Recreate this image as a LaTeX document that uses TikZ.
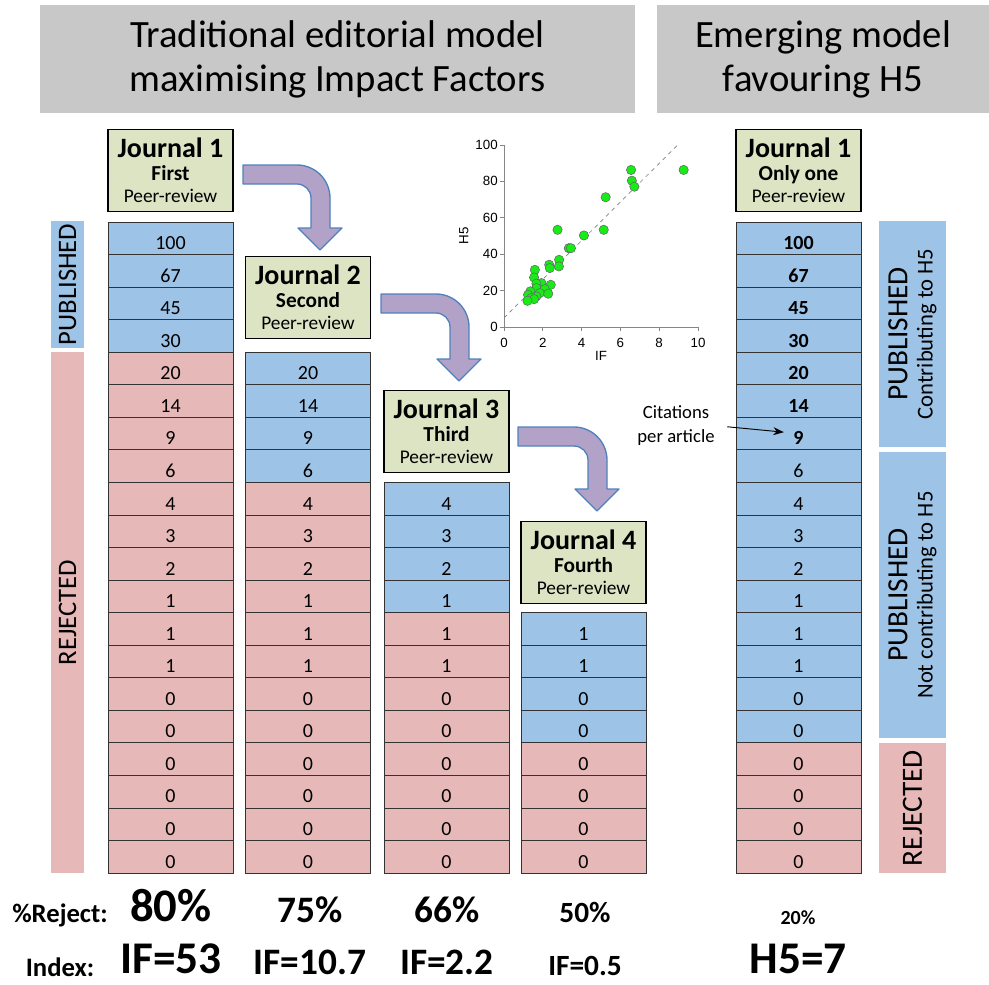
\documentclass[tikz,border=0pt]{standalone}
\usepackage{fontspec}
\setmainfont{Carlito}
\newfontfamily\chartfont{Liberation Sans}
\usetikzlibrary{arrows.meta}
\definecolor{pubblue}{RGB}{157,195,230}
\definecolor{rejpink}{RGB}{230,185,184}
\definecolor{jgreen}{RGB}{220,228,196}
\definecolor{titlegray}{RGB}{200,200,200}
\definecolor{arrowlilac}{RGB}{179,162,199}
\definecolor{arrowedge}{RGB}{79,129,189}
\definecolor{dotgreen}{RGB}{25,235,25}
\definecolor{axisgray}{RGB}{134,134,134}
\begin{document}
\begin{tikzpicture}[x=0.75pt,y=-0.75pt,
  cell/.style={draw=black!80, line width=0.6pt, minimum width=93.75pt, minimum height=24.41pt,
    inner sep=0pt, text height=17pt, text depth=0pt, font=\fontsize{15}{18}\selectfont},
  pub/.style={cell, fill=pubblue},
  pubbold/.style={pub, font=\fontsize{15}{18}\selectfont\bfseries},
  rej/.style={cell, fill=rejpink},
  journal/.style={draw, line width=0.9pt, fill=jgreen, minimum width=93.75pt, minimum height=62pt,
    inner sep=0pt, align=center, font=\fontsize{14.5}{17}\selectfont},
  strip/.style={rotate=90, inner sep=0pt, align=center},
  banner/.style={fill=titlegray, inner sep=0pt, align=center, font=\fontsize{29}{33}\selectfont},
  bent/.style={fill=arrowlilac, draw=arrowedge, line width=1pt, line join=round},
  tick/.style={font=\chartfont\fontsize{10}{12}\selectfont, inner sep=2.5pt},
  summary/.style={anchor=base, inner sep=0pt}]
\useasboundingbox (0,0) rectangle (989,985);

% headings
\node(tradtitle) at (337.5,59) [banner, minimum width=446.25pt, minimum height=81pt]
  {Traditional editorial model\\maximising Impact Factors};
\node(newtitle) at (823,59) [banner, minimum width=249pt, minimum height=81pt]
  {Emerging model\\favouring H5};

% journals
\node(j1) at (170.5,170.5) [journal]{{\fontsize{21}{17}\selectfont\bfseries Journal 1}\\{\fontsize{16}{17}\selectfont\bfseries First}\\Peer-review};
\node(j2) at (308,297.5) [journal]{{\fontsize{21}{17}\selectfont\bfseries Journal 2}\\{\fontsize{16}{17}\selectfont\bfseries Second}\\Peer-review};
\node(j3) at (446.5,431.5) [journal]{{\fontsize{21}{17}\selectfont\bfseries Journal 3}\\{\fontsize{16}{17}\selectfont\bfseries Third}\\Peer-review};
\node(j4) at (583.5,562.5) [journal]{{\fontsize{21}{17}\selectfont\bfseries Journal 4}\\{\fontsize{16}{17}\selectfont\bfseries Fourth}\\Peer-review};
\node(jh) at (798.5,170.5) [journal]{{\fontsize{21}{17}\selectfont\bfseries Journal 1}\\{\fontsize{16}{17}\selectfont\bfseries Only one}\\Peer-review};

% articles, citations per article
\foreach \v [count=\i] in {100,67,45,30}
  \node(a\i) at (170.5,205.725+32.55*\i) [pub]{\v};
\foreach \v [count=\i from 5] in {20,14,9,6,4,3,2,1,1,1,0,0,0,0,0,0}
  \node(a\i) at (170.5,205.725+32.55*\i) [rej]{\v};
\foreach \v [count=\i from 5] in {20,14,9,6}
  \node(b\i) at (308,205.725+32.55*\i) [pub]{\v};
\foreach \v [count=\i from 9] in {4,3,2,1,1,1,0,0,0,0,0,0}
  \node(b\i) at (308,205.725+32.55*\i) [rej]{\v};
\foreach \v [count=\i from 9] in {4,3,2,1}
  \node(c\i) at (446.5,205.725+32.55*\i) [pub]{\v};
\foreach \v [count=\i from 13] in {1,1,0,0,0,0,0,0}
  \node(c\i) at (446.5,205.725+32.55*\i) [rej]{\v};
\foreach \v [count=\i from 13] in {1,1,0,0}
  \node(d\i) at (583.5,205.725+32.55*\i) [pub]{\v};
\foreach \v [count=\i from 17] in {0,0,0,0}
  \node(d\i) at (583.5,205.725+32.55*\i) [rej]{\v};
\foreach \v [count=\i] in {100,67,45,30,20,14,9}
  \node(h\i) at (798.5,205.725+32.55*\i) [pubbold]{\v};
\foreach \v [count=\i from 8] in {6,4,3,2,1,1,1,0,0}
  \node(h\i) at (798.5,205.725+32.55*\i) [pub]{\v};
\foreach \v [count=\i from 17] in {0,0,0,0}
  \node(h\i) at (798.5,205.725+32.55*\i) [rej]{\v};

% side labels
\node(lpub) at (67.5,284.5) [strip, fill=pubblue, minimum width=95.25pt, minimum height=24.75pt,
  font=\fontsize{20}{22}\selectfont]{PUBLISHED};
\node(lrej) at (67.5,612.5) [strip, fill=rejpink, minimum width=390.75pt, minimum height=24.75pt,
  font=\fontsize{20}{22}\selectfont]{REJECTED};
\node(rpub) at (912.5,334) [strip, fill=pubblue, minimum width=169.5pt, minimum height=50.25pt,
  font=\fontsize{17}{19}\selectfont]{{\fontsize{22}{19}\selectfont PUBLISHED}\\Contributing to H5};
\node(rnot) at (912.5,595) [strip, fill=pubblue, minimum width=214.5pt, minimum height=50.25pt,
  font=\fontsize{17}{19}\selectfont]{{\fontsize{22}{19}\selectfont PUBLISHED}\\Not contributing to H5};
\node(rrej) at (912.5,808) [strip, fill=rejpink, minimum width=97.5pt, minimum height=50.25pt,
  font=\fontsize{22}{24}\selectfont]{REJECTED};

% bent arrows between journals
\draw[bent] (243,165) -- ++(54,0) arc[start angle=-90,end angle=0,radius=33] -- ++(0,30)
  -- ++(12,0) -- ++(-22,22) -- ++(-22,-22) -- ++(13,0) -- ++(0,-30)
  arc[start angle=0,end angle=-90,radius=14] -- ++(-54,0) -- cycle;
\draw[bent] (381,294) -- ++(55,0) arc[start angle=-90,end angle=0,radius=33] -- ++(0,32)
  -- ++(12,0) -- ++(-22,22) -- ++(-22,-22) -- ++(13,0) -- ++(0,-32)
  arc[start angle=0,end angle=-90,radius=14] -- ++(-55,0) -- cycle;
\draw[bent] (518,427) -- ++(56,0) arc[start angle=-90,end angle=0,radius=33] -- ++(0,29)
  -- ++(12,0) -- ++(-22,22) -- ++(-22,-22) -- ++(13,0) -- ++(0,-29)
  arc[start angle=0,end angle=-90,radius=14] -- ++(-56,0) -- cycle;

% H5 against IF
\begin{scope}[shift={(504,327)},x=14.55pt,y=1.365pt]
\draw[axisgray, line width=0.6pt] (0,100) -- (0,0) -- (10,0);
\foreach \t in {0,2,...,10}{
  \draw[axisgray, line width=0.6pt] (\t,0) -- ++(0,-3pt);
  \node(xt\t) at (\t,0) [tick, anchor=north, yshift=-5.5pt]{\t};}
\foreach \t in {0,20,...,100}{
  \draw[axisgray, line width=0.6pt] (0,\t) -- ++(-3pt,0);
  \node(yt\t) at (0,\t) [tick, anchor=east, xshift=-2pt]{\t};}
\node(iflab) at (5,-16) [tick]{IF};
\node(h5lab) at (-2.07,50) [tick, rotate=90]{H5};
\draw[gray, dashed, line width=0.5pt] (0,5) -- (8.95,100);
\foreach \p in {(6.55,86.3),(9.26,86.3),(6.59,80.4),(6.72,77.1),(5.24,71.3),(2.76,53.4),
  (5.14,53.4),(4.12,50.3),(3.34,43.3),(3.45,43.3),(2.84,36.9),(2.83,33.3),(2.33,34.2),
  (2.36,32.4),(1.59,31.4),(1.55,27.2),(2.41,23.2),(1.93,24.1),(1.67,23.8),(1.67,21.4),
  (2.10,20.8),(1.36,19.6),(1.84,18.6),(2.28,18.3),(1.24,17.7),(1.67,16.8),(1.41,15.9),
  (1.55,15.3),(1.21,14.4)}
  \fill[dotgreen, draw=black!60, line width=0.4pt] \p circle[radius=3.5pt];
\end{scope}

% pointer
\node(cite) at (676,426) [align=center, font=\fontsize{14}{18}\selectfont]{Citations\\per article};
\draw[-{Stealth[length=8pt,width=6pt]}, line width=0.7pt, shorten <=6pt, shorten >=11pt] (cite.east) -- (h7.center);

% summary rows
\node(rejlab) at (60,922) [summary, font=\fontsize{20}{24}\selectfont\bfseries]{\%Reject:};
\node(rej1) at (171,921) [summary, font=\fontsize{35}{40}\selectfont\bfseries]{80\%};
\node(rej2) at (310,922) [summary, font=\fontsize{28}{32}\selectfont\bfseries]{75\%};
\node(rej3) at (447,922) [summary, font=\fontsize{28}{32}\selectfont\bfseries]{66\%};
\node(rej4) at (585,922) [summary, font=\fontsize{22}{26}\selectfont\bfseries]{50\%};
\node(rejh) at (798,924) [summary, font=\fontsize{15}{18}\selectfont\bfseries]{20\%};
\node(idxlab) at (60,976) [summary, font=\fontsize{20}{24}\selectfont\bfseries]{Index:};
\node(idx1) at (171,973) [summary, font=\fontsize{34}{40}\selectfont\bfseries]{IF=53};
\node(idx2) at (310,974) [summary, font=\fontsize{28}{32}\selectfont\bfseries]{IF=10.7};
\node(idx3) at (447,974) [summary, font=\fontsize{28}{32}\selectfont\bfseries]{IF=2.2};
\node(idx4) at (585,975) [summary, font=\fontsize{22}{26}\selectfont\bfseries]{IF=0.5};
\node(idxh) at (798,973) [summary, font=\fontsize{34}{40}\selectfont\bfseries]{H5=7};

\end{tikzpicture}
\end{document}
